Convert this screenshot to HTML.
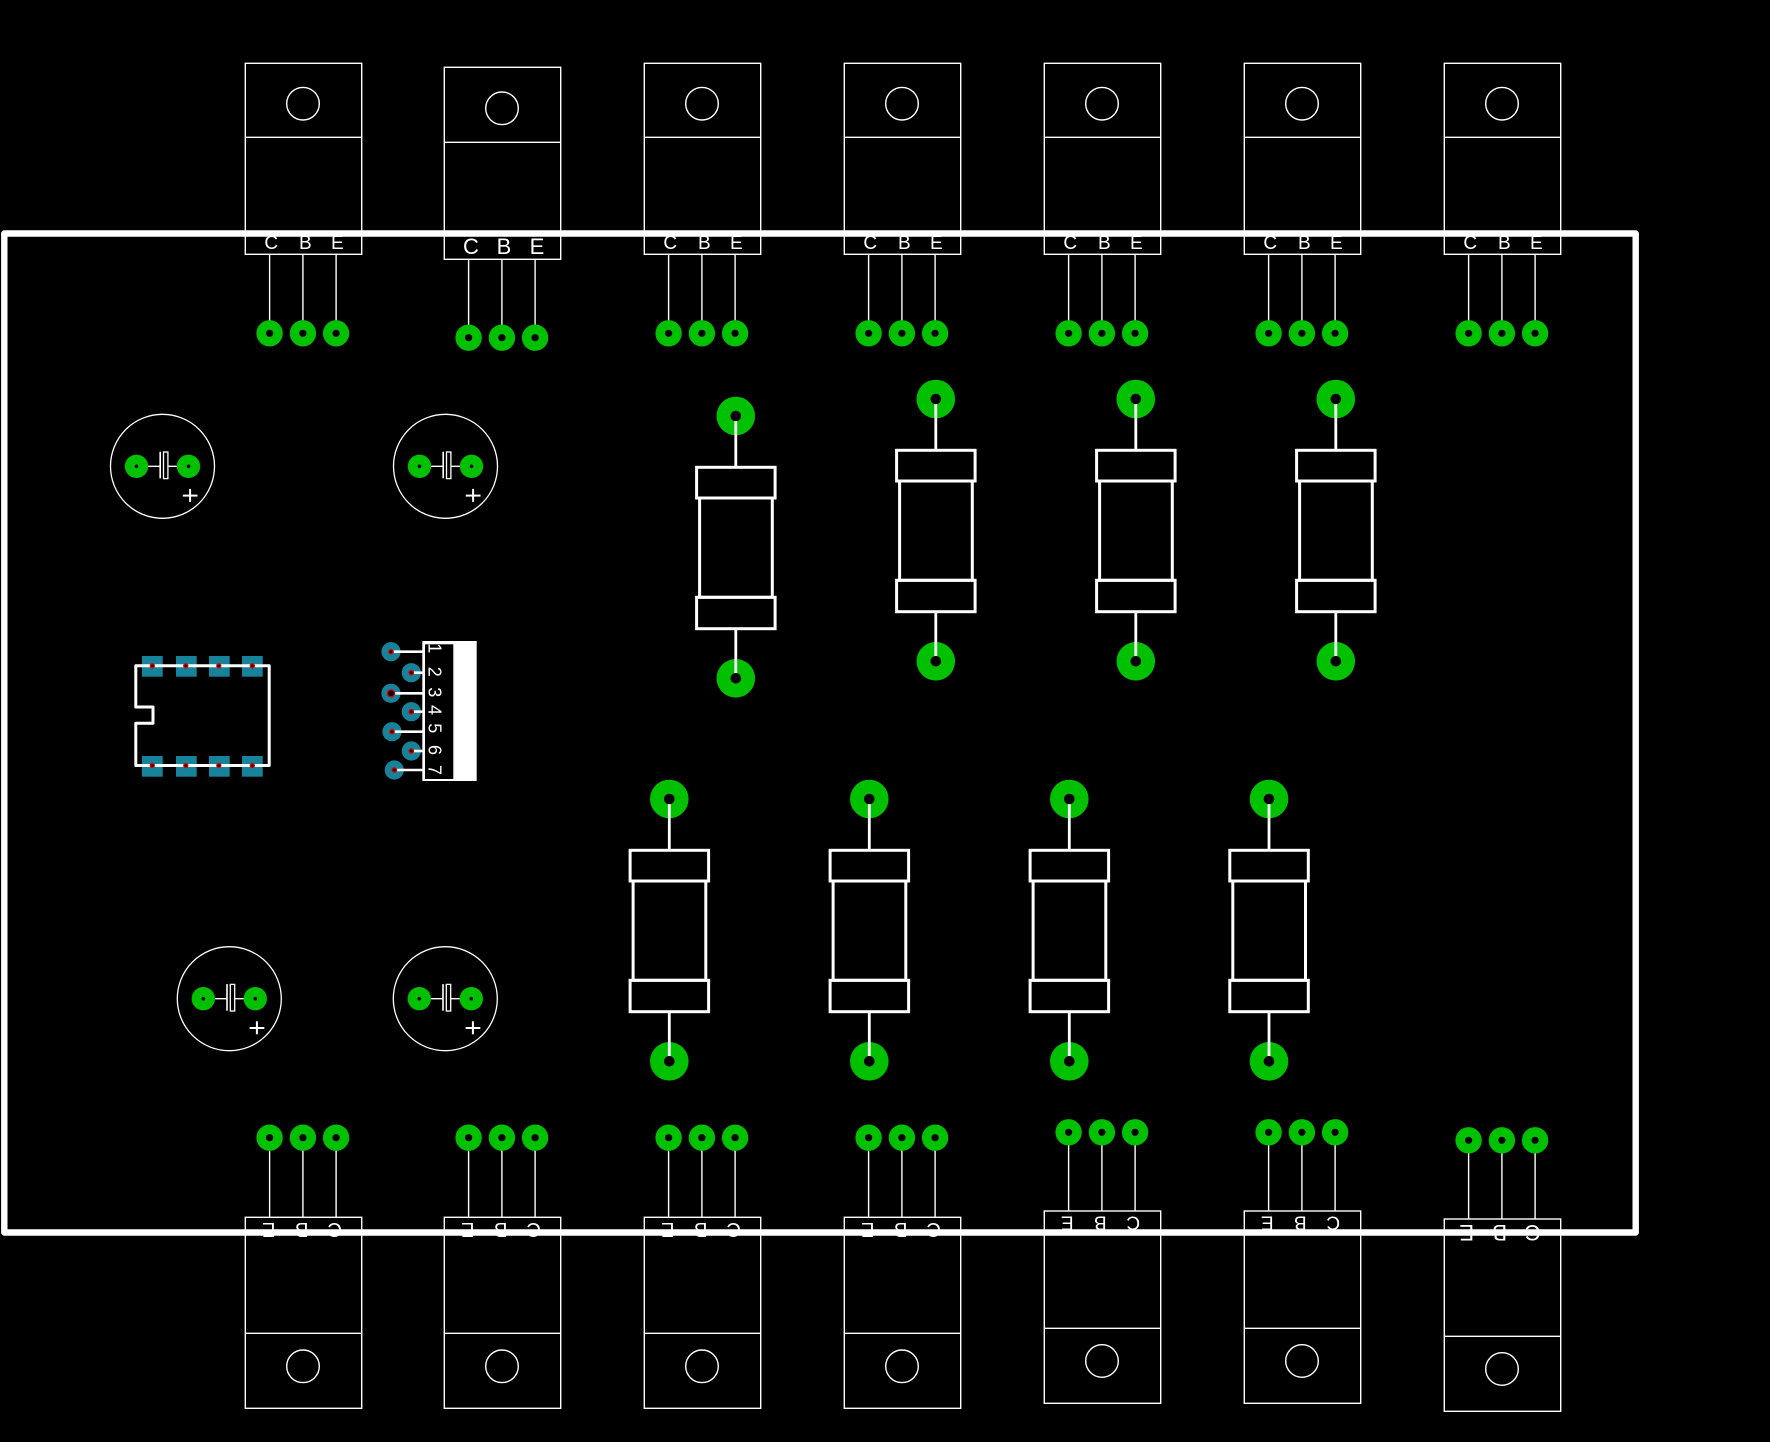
<!DOCTYPE html>
<html><head><meta charset="utf-8"><style>
html,body{margin:0;padding:0;background:#000;}
svg{display:block;}
text{font-family:"Liberation Sans",sans-serif;fill:#fff;}
</style></head><body>
<svg width="1770" height="1442" viewBox="0 0 1770 1442" xmlns="http://www.w3.org/2000/svg">
<rect x="0" y="0" width="1770" height="1442" fill="#000"/>

<!-- ============ TOP TRANSISTORS ============ -->
<g id="tt1" transform="translate(245.3,63.3)" fill="none" stroke="#fff" stroke-width="1.4">
  <rect x="0" y="0" width="116.4" height="191"/>
  <line x1="0" y1="74" x2="116.4" y2="74"/>
  <circle cx="57.7" cy="40.4" r="16.3"/>
  <line x1="24.3" y1="191" x2="24.3" y2="270"/><line x1="57.6" y1="191" x2="57.6" y2="270"/><line x1="90.8" y1="191" x2="90.8" y2="270"/>
  <g fill="#00c000" stroke="none"><circle cx="24.3" cy="270" r="13.2"/><circle cx="57.6" cy="270" r="13.2"/><circle cx="90.8" cy="270" r="13.2"/></g>
  <g fill="#000" stroke="none"><circle cx="24.3" cy="270" r="3.6"/><circle cx="57.6" cy="270" r="3.6"/><circle cx="90.8" cy="270" r="3.6"/></g>
  <g stroke="none" font-size="19" text-anchor="middle"><text x="26" y="185.7">C</text><text x="60" y="185.7">B</text><text x="92" y="185.7">E</text></g>
</g>
<g transform="translate(444.3,67.3)" fill="none" stroke="#fff" stroke-width="1.4">
  <rect x="0" y="0" width="116.4" height="192"/>
  <line x1="0" y1="75" x2="116.4" y2="75"/>
  <circle cx="57.7" cy="41" r="16.3"/>
  <line x1="24.3" y1="192" x2="24.3" y2="270.4"/><line x1="57.6" y1="192" x2="57.6" y2="270.4"/><line x1="90.8" y1="192" x2="90.8" y2="270.4"/>
  <g fill="#00c000" stroke="none"><circle cx="24.3" cy="270.4" r="13.2"/><circle cx="57.6" cy="270.4" r="13.2"/><circle cx="90.8" cy="270.4" r="13.2"/></g>
  <g fill="#000" stroke="none"><circle cx="24.3" cy="270.4" r="3.6"/><circle cx="57.6" cy="270.4" r="3.6"/><circle cx="90.8" cy="270.4" r="3.6"/></g>
  <g stroke="none" font-size="22" text-anchor="middle"><text x="26.7" y="186.7">C</text><text x="59.7" y="186.7">B</text><text x="92.7" y="186.7">E</text></g>
</g>
<g transform="translate(644.3,63.3)" fill="none" stroke="#fff" stroke-width="1.4">
  <rect x="0" y="0" width="116.4" height="191"/>
  <line x1="0" y1="74" x2="116.4" y2="74"/>
  <circle cx="57.7" cy="40.4" r="16.3"/>
  <line x1="24.3" y1="191" x2="24.3" y2="270"/><line x1="57.6" y1="191" x2="57.6" y2="270"/><line x1="90.8" y1="191" x2="90.8" y2="270"/>
  <g fill="#00c000" stroke="none"><circle cx="24.3" cy="270" r="13.2"/><circle cx="57.6" cy="270" r="13.2"/><circle cx="90.8" cy="270" r="13.2"/></g>
  <g fill="#000" stroke="none"><circle cx="24.3" cy="270" r="3.6"/><circle cx="57.6" cy="270" r="3.6"/><circle cx="90.8" cy="270" r="3.6"/></g>
  <g stroke="none" font-size="19" text-anchor="middle"><text x="26" y="185.7">C</text><text x="60" y="185.7">B</text><text x="92" y="185.7">E</text></g>
</g>
<g transform="translate(844.3,63.3)" fill="none" stroke="#fff" stroke-width="1.4">
  <rect x="0" y="0" width="116.4" height="191"/>
  <line x1="0" y1="74" x2="116.4" y2="74"/>
  <circle cx="57.7" cy="40.4" r="16.3"/>
  <line x1="24.3" y1="191" x2="24.3" y2="270"/><line x1="57.6" y1="191" x2="57.6" y2="270"/><line x1="90.8" y1="191" x2="90.8" y2="270"/>
  <g fill="#00c000" stroke="none"><circle cx="24.3" cy="270" r="13.2"/><circle cx="57.6" cy="270" r="13.2"/><circle cx="90.8" cy="270" r="13.2"/></g>
  <g fill="#000" stroke="none"><circle cx="24.3" cy="270" r="3.6"/><circle cx="57.6" cy="270" r="3.6"/><circle cx="90.8" cy="270" r="3.6"/></g>
  <g stroke="none" font-size="19" text-anchor="middle"><text x="26" y="185.7">C</text><text x="60" y="185.7">B</text><text x="92" y="185.7">E</text></g>
</g>
<g transform="translate(1044.3,63.3)" fill="none" stroke="#fff" stroke-width="1.4">
  <rect x="0" y="0" width="116.4" height="191"/>
  <line x1="0" y1="74" x2="116.4" y2="74"/>
  <circle cx="57.7" cy="40.4" r="16.3"/>
  <line x1="24.3" y1="191" x2="24.3" y2="270"/><line x1="57.6" y1="191" x2="57.6" y2="270"/><line x1="90.8" y1="191" x2="90.8" y2="270"/>
  <g fill="#00c000" stroke="none"><circle cx="24.3" cy="270" r="13.2"/><circle cx="57.6" cy="270" r="13.2"/><circle cx="90.8" cy="270" r="13.2"/></g>
  <g fill="#000" stroke="none"><circle cx="24.3" cy="270" r="3.6"/><circle cx="57.6" cy="270" r="3.6"/><circle cx="90.8" cy="270" r="3.6"/></g>
  <g stroke="none" font-size="19" text-anchor="middle"><text x="26" y="185.7">C</text><text x="60" y="185.7">B</text><text x="92" y="185.7">E</text></g>
</g>
<g transform="translate(1244.3,63.3)" fill="none" stroke="#fff" stroke-width="1.4">
  <rect x="0" y="0" width="116.4" height="191"/>
  <line x1="0" y1="74" x2="116.4" y2="74"/>
  <circle cx="57.7" cy="40.4" r="16.3"/>
  <line x1="24.3" y1="191" x2="24.3" y2="270"/><line x1="57.6" y1="191" x2="57.6" y2="270"/><line x1="90.8" y1="191" x2="90.8" y2="270"/>
  <g fill="#00c000" stroke="none"><circle cx="24.3" cy="270" r="13.2"/><circle cx="57.6" cy="270" r="13.2"/><circle cx="90.8" cy="270" r="13.2"/></g>
  <g fill="#000" stroke="none"><circle cx="24.3" cy="270" r="3.6"/><circle cx="57.6" cy="270" r="3.6"/><circle cx="90.8" cy="270" r="3.6"/></g>
  <g stroke="none" font-size="19" text-anchor="middle"><text x="26" y="185.7">C</text><text x="60" y="185.7">B</text><text x="92" y="185.7">E</text></g>
</g>
<g transform="translate(1444.3,63.3)" fill="none" stroke="#fff" stroke-width="1.4">
  <rect x="0" y="0" width="116.4" height="191"/>
  <line x1="0" y1="74" x2="116.4" y2="74"/>
  <circle cx="57.7" cy="40.4" r="16.3"/>
  <line x1="24.3" y1="191" x2="24.3" y2="270"/><line x1="57.6" y1="191" x2="57.6" y2="270"/><line x1="90.8" y1="191" x2="90.8" y2="270"/>
  <g fill="#00c000" stroke="none"><circle cx="24.3" cy="270" r="13.2"/><circle cx="57.6" cy="270" r="13.2"/><circle cx="90.8" cy="270" r="13.2"/></g>
  <g fill="#000" stroke="none"><circle cx="24.3" cy="270" r="3.6"/><circle cx="57.6" cy="270" r="3.6"/><circle cx="90.8" cy="270" r="3.6"/></g>
  <g stroke="none" font-size="19" text-anchor="middle"><text x="26" y="185.7">C</text><text x="60" y="185.7">B</text><text x="92" y="185.7">E</text></g>
</g>

<!-- ============ BOTTOM TRANSISTORS ============ -->
<g transform="translate(245.3,1217.3)" fill="none" stroke="#fff" stroke-width="1.4">
  <rect x="0" y="0" width="116.4" height="191"/>
  <line x1="0" y1="116" x2="116.4" y2="116"/>
  <circle cx="57.7" cy="149" r="16.3"/>
  <line x1="24.3" y1="0" x2="24.3" y2="-79.6"/><line x1="57.6" y1="0" x2="57.6" y2="-79.6"/><line x1="90.8" y1="0" x2="90.8" y2="-79.6"/>
  <g fill="#00c000" stroke="none"><circle cx="24.3" cy="-79.6" r="13.2"/><circle cx="57.6" cy="-79.6" r="13.2"/><circle cx="90.8" cy="-79.6" r="13.2"/></g>
  <g fill="#000" stroke="none"><circle cx="24.3" cy="-79.6" r="3.6"/><circle cx="57.6" cy="-79.6" r="3.6"/><circle cx="90.8" cy="-79.6" r="3.6"/></g>
  <g stroke="none" font-size="20" text-anchor="middle">
    <text x="23.5" y="20.1" transform="rotate(180 23.5 12.9)">E</text>
    <text x="56.5" y="20.1" transform="rotate(180 56.5 12.9)">B</text>
    <text x="89.5" y="20.1" transform="rotate(180 89.5 12.9)">C</text>
  </g>
</g>
<g transform="translate(444.3,1217.3)" fill="none" stroke="#fff" stroke-width="1.4">
  <rect x="0" y="0" width="116.4" height="191"/>
  <line x1="0" y1="116" x2="116.4" y2="116"/>
  <circle cx="57.7" cy="149" r="16.3"/>
  <line x1="24.3" y1="0" x2="24.3" y2="-79.6"/><line x1="57.6" y1="0" x2="57.6" y2="-79.6"/><line x1="90.8" y1="0" x2="90.8" y2="-79.6"/>
  <g fill="#00c000" stroke="none"><circle cx="24.3" cy="-79.6" r="13.2"/><circle cx="57.6" cy="-79.6" r="13.2"/><circle cx="90.8" cy="-79.6" r="13.2"/></g>
  <g fill="#000" stroke="none"><circle cx="24.3" cy="-79.6" r="3.6"/><circle cx="57.6" cy="-79.6" r="3.6"/><circle cx="90.8" cy="-79.6" r="3.6"/></g>
  <g stroke="none" font-size="20" text-anchor="middle">
    <text x="23.5" y="20.1" transform="rotate(180 23.5 12.9)">E</text>
    <text x="56.5" y="20.1" transform="rotate(180 56.5 12.9)">B</text>
    <text x="89.5" y="20.1" transform="rotate(180 89.5 12.9)">C</text>
  </g>
</g>
<g transform="translate(644.3,1217.3)" fill="none" stroke="#fff" stroke-width="1.4">
  <rect x="0" y="0" width="116.4" height="191"/>
  <line x1="0" y1="116" x2="116.4" y2="116"/>
  <circle cx="57.7" cy="149" r="16.3"/>
  <line x1="24.3" y1="0" x2="24.3" y2="-79.6"/><line x1="57.6" y1="0" x2="57.6" y2="-79.6"/><line x1="90.8" y1="0" x2="90.8" y2="-79.6"/>
  <g fill="#00c000" stroke="none"><circle cx="24.3" cy="-79.6" r="13.2"/><circle cx="57.6" cy="-79.6" r="13.2"/><circle cx="90.8" cy="-79.6" r="13.2"/></g>
  <g fill="#000" stroke="none"><circle cx="24.3" cy="-79.6" r="3.6"/><circle cx="57.6" cy="-79.6" r="3.6"/><circle cx="90.8" cy="-79.6" r="3.6"/></g>
  <g stroke="none" font-size="20" text-anchor="middle">
    <text x="23.5" y="20.1" transform="rotate(180 23.5 12.9)">E</text>
    <text x="56.5" y="20.1" transform="rotate(180 56.5 12.9)">B</text>
    <text x="89.5" y="20.1" transform="rotate(180 89.5 12.9)">C</text>
  </g>
</g>
<g transform="translate(844.3,1217.3)" fill="none" stroke="#fff" stroke-width="1.4">
  <rect x="0" y="0" width="116.4" height="191"/>
  <line x1="0" y1="116" x2="116.4" y2="116"/>
  <circle cx="57.7" cy="149" r="16.3"/>
  <line x1="24.3" y1="0" x2="24.3" y2="-79.6"/><line x1="57.6" y1="0" x2="57.6" y2="-79.6"/><line x1="90.8" y1="0" x2="90.8" y2="-79.6"/>
  <g fill="#00c000" stroke="none"><circle cx="24.3" cy="-79.6" r="13.2"/><circle cx="57.6" cy="-79.6" r="13.2"/><circle cx="90.8" cy="-79.6" r="13.2"/></g>
  <g fill="#000" stroke="none"><circle cx="24.3" cy="-79.6" r="3.6"/><circle cx="57.6" cy="-79.6" r="3.6"/><circle cx="90.8" cy="-79.6" r="3.6"/></g>
  <g stroke="none" font-size="20" text-anchor="middle">
    <text x="23.5" y="20.1" transform="rotate(180 23.5 12.9)">E</text>
    <text x="56.5" y="20.1" transform="rotate(180 56.5 12.9)">B</text>
    <text x="89.5" y="20.1" transform="rotate(180 89.5 12.9)">C</text>
  </g>
</g>
<g transform="translate(1044.3,1211)" fill="none" stroke="#fff" stroke-width="1.4">
  <rect x="0" y="0" width="116.4" height="192.3"/>
  <line x1="0" y1="117.3" x2="116.4" y2="117.3"/>
  <circle cx="57.7" cy="150" r="16.3"/>
  <line x1="24.3" y1="0" x2="24.3" y2="-78.7"/><line x1="57.6" y1="0" x2="57.6" y2="-78.7"/><line x1="90.8" y1="0" x2="90.8" y2="-78.7"/>
  <g fill="#00c000" stroke="none"><circle cx="24.3" cy="-78.7" r="13.2"/><circle cx="57.6" cy="-78.7" r="13.2"/><circle cx="90.8" cy="-78.7" r="13.2"/></g>
  <g fill="#000" stroke="none"><circle cx="24.3" cy="-78.7" r="3.6"/><circle cx="57.6" cy="-78.7" r="3.6"/><circle cx="90.8" cy="-78.7" r="3.6"/></g>
  <g stroke="none" font-size="19" text-anchor="middle">
    <text x="23" y="19.3" transform="rotate(180 23 12.5)">E</text>
    <text x="56" y="19.3" transform="rotate(180 56 12.5)">B</text>
    <text x="89" y="19.3" transform="rotate(180 89 12.5)">C</text>
  </g>
</g>
<g transform="translate(1244.3,1211)" fill="none" stroke="#fff" stroke-width="1.4">
  <rect x="0" y="0" width="116.4" height="192.3"/>
  <line x1="0" y1="117.3" x2="116.4" y2="117.3"/>
  <circle cx="57.7" cy="150" r="16.3"/>
  <line x1="24.3" y1="0" x2="24.3" y2="-78.7"/><line x1="57.6" y1="0" x2="57.6" y2="-78.7"/><line x1="90.8" y1="0" x2="90.8" y2="-78.7"/>
  <g fill="#00c000" stroke="none"><circle cx="24.3" cy="-78.7" r="13.2"/><circle cx="57.6" cy="-78.7" r="13.2"/><circle cx="90.8" cy="-78.7" r="13.2"/></g>
  <g fill="#000" stroke="none"><circle cx="24.3" cy="-78.7" r="3.6"/><circle cx="57.6" cy="-78.7" r="3.6"/><circle cx="90.8" cy="-78.7" r="3.6"/></g>
  <g stroke="none" font-size="19" text-anchor="middle">
    <text x="23" y="19.3" transform="rotate(180 23 12.5)">E</text>
    <text x="56" y="19.3" transform="rotate(180 56 12.5)">B</text>
    <text x="89" y="19.3" transform="rotate(180 89 12.5)">C</text>
  </g>
</g>
<g transform="translate(1444.3,1219)" fill="none" stroke="#fff" stroke-width="1.4">
  <rect x="0" y="0" width="116.4" height="192.3"/>
  <line x1="0" y1="117.3" x2="116.4" y2="117.3"/>
  <circle cx="57.7" cy="150" r="16.3"/>
  <line x1="24.3" y1="0" x2="24.3" y2="-78.7"/><line x1="57.6" y1="0" x2="57.6" y2="-78.7"/><line x1="90.8" y1="0" x2="90.8" y2="-78.7"/>
  <g fill="#00c000" stroke="none"><circle cx="24.3" cy="-78.7" r="13.2"/><circle cx="57.6" cy="-78.7" r="13.2"/><circle cx="90.8" cy="-78.7" r="13.2"/></g>
  <g fill="#000" stroke="none"><circle cx="24.3" cy="-78.7" r="3.6"/><circle cx="57.6" cy="-78.7" r="3.6"/><circle cx="90.8" cy="-78.7" r="3.6"/></g>
  <g stroke="none" font-size="22" text-anchor="middle">
    <text x="22.5" y="21.9" transform="rotate(180 22.5 14)">E</text>
    <text x="55.5" y="21.9" transform="rotate(180 55.5 14)">B</text>
    <text x="88.5" y="21.9" transform="rotate(180 88.5 14)">C</text>
  </g>
</g>

<!-- ============ RESISTORS ============ -->
<g fill="none" stroke="#fff">
<!-- top row -->
<g transform="translate(735.8,416)">
  <circle cx="0" cy="0" r="19.3" fill="#00c000" stroke="none"/><circle cx="0" cy="262.3" r="19.3" fill="#00c000" stroke="none"/>
  <line x1="0" y1="0" x2="0" y2="51.3" stroke-width="2.8"/><line x1="0" y1="212.7" x2="0" y2="262.3" stroke-width="2.8"/>
  <circle cx="0" cy="0" r="5.3" fill="#000" stroke="none"/><circle cx="0" cy="262.3" r="5.3" fill="#000" stroke="none"/>
  <rect x="-39.2" y="51.3" width="78.5" height="30.7" stroke-width="3"/>
  <rect x="-36.2" y="82" width="72.7" height="99.3" stroke-width="3"/>
  <rect x="-39.2" y="181.3" width="78.5" height="31.4" stroke-width="3"/>
</g>
<g transform="translate(935.8,399)">
  <circle cx="0" cy="0" r="19.3" fill="#00c000" stroke="none"/><circle cx="0" cy="262.3" r="19.3" fill="#00c000" stroke="none"/>
  <line x1="0" y1="0" x2="0" y2="51.3" stroke-width="2.8"/><line x1="0" y1="212.7" x2="0" y2="262.3" stroke-width="2.8"/>
  <circle cx="0" cy="0" r="5.3" fill="#000" stroke="none"/><circle cx="0" cy="262.3" r="5.3" fill="#000" stroke="none"/>
  <rect x="-39.2" y="51.3" width="78.5" height="30.7" stroke-width="3"/>
  <rect x="-36.2" y="82" width="72.7" height="99.3" stroke-width="3"/>
  <rect x="-39.2" y="181.3" width="78.5" height="31.4" stroke-width="3"/>
</g>
<g transform="translate(1135.8,399)">
  <circle cx="0" cy="0" r="19.3" fill="#00c000" stroke="none"/><circle cx="0" cy="262.3" r="19.3" fill="#00c000" stroke="none"/>
  <line x1="0" y1="0" x2="0" y2="51.3" stroke-width="2.8"/><line x1="0" y1="212.7" x2="0" y2="262.3" stroke-width="2.8"/>
  <circle cx="0" cy="0" r="5.3" fill="#000" stroke="none"/><circle cx="0" cy="262.3" r="5.3" fill="#000" stroke="none"/>
  <rect x="-39.2" y="51.3" width="78.5" height="30.7" stroke-width="3"/>
  <rect x="-36.2" y="82" width="72.7" height="99.3" stroke-width="3"/>
  <rect x="-39.2" y="181.3" width="78.5" height="31.4" stroke-width="3"/>
</g>
<g transform="translate(1335.8,399)">
  <circle cx="0" cy="0" r="19.3" fill="#00c000" stroke="none"/><circle cx="0" cy="262.3" r="19.3" fill="#00c000" stroke="none"/>
  <line x1="0" y1="0" x2="0" y2="51.3" stroke-width="2.8"/><line x1="0" y1="212.7" x2="0" y2="262.3" stroke-width="2.8"/>
  <circle cx="0" cy="0" r="5.3" fill="#000" stroke="none"/><circle cx="0" cy="262.3" r="5.3" fill="#000" stroke="none"/>
  <rect x="-39.2" y="51.3" width="78.5" height="30.7" stroke-width="3"/>
  <rect x="-36.2" y="82" width="72.7" height="99.3" stroke-width="3"/>
  <rect x="-39.2" y="181.3" width="78.5" height="31.4" stroke-width="3"/>
</g>
<!-- bottom row -->
<g transform="translate(669.3,799)">
  <circle cx="0" cy="0" r="19.3" fill="#00c000" stroke="none"/><circle cx="0" cy="262.3" r="19.3" fill="#00c000" stroke="none"/>
  <line x1="0" y1="0" x2="0" y2="51.3" stroke-width="2.8"/><line x1="0" y1="212.7" x2="0" y2="262.3" stroke-width="2.8"/>
  <circle cx="0" cy="0" r="5.3" fill="#000" stroke="none"/><circle cx="0" cy="262.3" r="5.3" fill="#000" stroke="none"/>
  <rect x="-39.2" y="51.3" width="78.5" height="30.7" stroke-width="3"/>
  <rect x="-36.2" y="82" width="72.7" height="99.3" stroke-width="3"/>
  <rect x="-39.2" y="181.3" width="78.5" height="31.4" stroke-width="3"/>
</g>
<g transform="translate(869.3,799)">
  <circle cx="0" cy="0" r="19.3" fill="#00c000" stroke="none"/><circle cx="0" cy="262.3" r="19.3" fill="#00c000" stroke="none"/>
  <line x1="0" y1="0" x2="0" y2="51.3" stroke-width="2.8"/><line x1="0" y1="212.7" x2="0" y2="262.3" stroke-width="2.8"/>
  <circle cx="0" cy="0" r="5.3" fill="#000" stroke="none"/><circle cx="0" cy="262.3" r="5.3" fill="#000" stroke="none"/>
  <rect x="-39.2" y="51.3" width="78.5" height="30.7" stroke-width="3"/>
  <rect x="-36.2" y="82" width="72.7" height="99.3" stroke-width="3"/>
  <rect x="-39.2" y="181.3" width="78.5" height="31.4" stroke-width="3"/>
</g>
<g transform="translate(1069.3,799)">
  <circle cx="0" cy="0" r="19.3" fill="#00c000" stroke="none"/><circle cx="0" cy="262.3" r="19.3" fill="#00c000" stroke="none"/>
  <line x1="0" y1="0" x2="0" y2="51.3" stroke-width="2.8"/><line x1="0" y1="212.7" x2="0" y2="262.3" stroke-width="2.8"/>
  <circle cx="0" cy="0" r="5.3" fill="#000" stroke="none"/><circle cx="0" cy="262.3" r="5.3" fill="#000" stroke="none"/>
  <rect x="-39.2" y="51.3" width="78.5" height="30.7" stroke-width="3"/>
  <rect x="-36.2" y="82" width="72.7" height="99.3" stroke-width="3"/>
  <rect x="-39.2" y="181.3" width="78.5" height="31.4" stroke-width="3"/>
</g>
<g transform="translate(1269,799)">
  <circle cx="0" cy="0" r="19.3" fill="#00c000" stroke="none"/><circle cx="0" cy="262.3" r="19.3" fill="#00c000" stroke="none"/>
  <line x1="0" y1="0" x2="0" y2="51.3" stroke-width="2.8"/><line x1="0" y1="212.7" x2="0" y2="262.3" stroke-width="2.8"/>
  <circle cx="0" cy="0" r="5.3" fill="#000" stroke="none"/><circle cx="0" cy="262.3" r="5.3" fill="#000" stroke="none"/>
  <rect x="-39.2" y="51.3" width="78.5" height="30.7" stroke-width="3"/>
  <rect x="-36.2" y="82" width="72.7" height="99.3" stroke-width="3"/>
  <rect x="-39.2" y="181.3" width="78.5" height="31.4" stroke-width="3"/>
</g>
</g>

<!-- ============ CAPACITORS ============ -->
<g fill="none" stroke="#fff" stroke-width="1.3">
<g transform="translate(162.5,466.3)">
  <circle cx="0" cy="0" r="52"/>
  <line x1="-26" y1="0" x2="-2.3" y2="0"/><line x1="-2.3" y1="-14.6" x2="-2.3" y2="12" stroke-width="1.6"/>
  <rect x="1" y="-14.3" width="4.4" height="26.6"/><line x1="5.4" y1="0" x2="26" y2="0"/>
  <circle cx="-26" cy="0" r="11.7" fill="#00c000" stroke="none"/><circle cx="26" cy="0" r="11.7" fill="#00c000" stroke="none"/>
  <circle cx="-26" cy="0" r="1.8" fill="#000" stroke="none"/><circle cx="26" cy="0" r="1.8" fill="#000" stroke="none"/>
  <line x1="20.3" y1="29.3" x2="35" y2="29.3" stroke-width="2"/><line x1="27.6" y1="22.6" x2="27.6" y2="35.6" stroke-width="2"/>
</g>
<g transform="translate(445.5,466.3)">
  <circle cx="0" cy="0" r="52"/>
  <line x1="-26" y1="0" x2="-2.3" y2="0"/><line x1="-2.3" y1="-14.6" x2="-2.3" y2="12" stroke-width="1.6"/>
  <rect x="1" y="-14.3" width="4.4" height="26.6"/><line x1="5.4" y1="0" x2="26" y2="0"/>
  <circle cx="-26" cy="0" r="11.7" fill="#00c000" stroke="none"/><circle cx="26" cy="0" r="11.7" fill="#00c000" stroke="none"/>
  <circle cx="-26" cy="0" r="1.8" fill="#000" stroke="none"/><circle cx="26" cy="0" r="1.8" fill="#000" stroke="none"/>
  <line x1="20.3" y1="29.3" x2="35" y2="29.3" stroke-width="2"/><line x1="27.6" y1="22.6" x2="27.6" y2="35.6" stroke-width="2"/>
</g>
<g transform="translate(229.3,998.7)">
  <circle cx="0" cy="0" r="52"/>
  <line x1="-26" y1="0" x2="-2.3" y2="0"/><line x1="-2.3" y1="-14.6" x2="-2.3" y2="12" stroke-width="1.6"/>
  <rect x="1" y="-14.3" width="4.4" height="26.6"/><line x1="5.4" y1="0" x2="26" y2="0"/>
  <circle cx="-26" cy="0" r="11.7" fill="#00c000" stroke="none"/><circle cx="26" cy="0" r="11.7" fill="#00c000" stroke="none"/>
  <circle cx="-26" cy="0" r="1.8" fill="#000" stroke="none"/><circle cx="26" cy="0" r="1.8" fill="#000" stroke="none"/>
  <line x1="20.3" y1="29.3" x2="35" y2="29.3" stroke-width="2"/><line x1="27.6" y1="22.6" x2="27.6" y2="35.6" stroke-width="2"/>
</g>
<g transform="translate(445.3,998.7)">
  <circle cx="0" cy="0" r="52"/>
  <line x1="-26" y1="0" x2="-2.3" y2="0"/><line x1="-2.3" y1="-14.6" x2="-2.3" y2="12" stroke-width="1.6"/>
  <rect x="1" y="-14.3" width="4.4" height="26.6"/><line x1="5.4" y1="0" x2="26" y2="0"/>
  <circle cx="-26" cy="0" r="11.7" fill="#00c000" stroke="none"/><circle cx="26" cy="0" r="11.7" fill="#00c000" stroke="none"/>
  <circle cx="-26" cy="0" r="1.8" fill="#000" stroke="none"/><circle cx="26" cy="0" r="1.8" fill="#000" stroke="none"/>
  <line x1="20.3" y1="29.3" x2="35" y2="29.3" stroke-width="2"/><line x1="27.6" y1="22.6" x2="27.6" y2="35.6" stroke-width="2"/>
</g>
</g>

<!-- ============ IC DIP8 ============ -->
<g>
  <g fill="#16839b">
    <rect x="142" y="656" width="20.7" height="20.7"/><rect x="176" y="656" width="20.7" height="20.7"/>
    <rect x="209" y="656" width="20.7" height="20.7"/><rect x="242" y="656" width="20.7" height="20.7"/>
    <rect x="142" y="756" width="20.7" height="20.7"/><rect x="176" y="756" width="20.7" height="20.7"/>
    <rect x="209" y="756" width="20.7" height="20.7"/><rect x="242" y="756" width="20.7" height="20.7"/>
  </g>
  <path d="M135.8 665.8 H269.2 V765.5 H135.8 V723.3 H153 V707 H135.8 Z" fill="none" stroke="#fff" stroke-width="3" stroke-linejoin="round"/>
  <g fill="#000" stroke="#e00000" stroke-width="1.4">
    <circle cx="152.3" cy="665.8" r="2"/><circle cx="185.8" cy="665.8" r="2"/><circle cx="218.8" cy="665.8" r="2"/><circle cx="252.3" cy="665.8" r="2"/>
    <circle cx="152.3" cy="765.5" r="2"/><circle cx="185.8" cy="765.5" r="2"/><circle cx="218.8" cy="765.5" r="2"/><circle cx="252.3" cy="765.5" r="2"/>
  </g>
</g>

<!-- ============ CONNECTOR ============ -->
<g>
  <g fill="#16839b">
    <circle cx="391" cy="651.7" r="9.6"/><circle cx="411.3" cy="672.7" r="9.6"/><circle cx="391" cy="693.3" r="9.6"/>
    <circle cx="411.3" cy="711.7" r="9.6"/><circle cx="392" cy="731.7" r="9.6"/><circle cx="411.3" cy="751" r="9.6"/>
    <circle cx="394.3" cy="770" r="9.6"/>
  </g>
  <g stroke="#fff" stroke-width="2.6">
    <line x1="391" y1="651.7" x2="423" y2="651.7"/><line x1="411.3" y1="672.7" x2="423" y2="672.7"/>
    <line x1="391" y1="693.3" x2="423" y2="693.3"/><line x1="411.3" y1="711.7" x2="423" y2="711.7"/>
    <line x1="392" y1="731.7" x2="423" y2="731.7"/><line x1="411.3" y1="751" x2="423" y2="751"/>
    <line x1="394.3" y1="770" x2="423" y2="770"/>
  </g>
  <g fill="#000" stroke="#e00000" stroke-width="1.4">
    <circle cx="391" cy="651.7" r="2.2"/><circle cx="411.3" cy="672.7" r="2.2"/><circle cx="391" cy="693.3" r="3.6"/>
    <circle cx="411.3" cy="711.7" r="2.2"/><circle cx="392" cy="731.7" r="2.2"/><circle cx="411.3" cy="751" r="2.2"/>
    <circle cx="394.3" cy="770" r="2.2"/>
  </g>
  <rect x="422.3" y="641" width="54.4" height="140" fill="#fff"/>
  <rect x="425" y="644.3" width="28.3" height="134.7" fill="#000"/>
  <g font-size="18" text-anchor="middle">
    <text x="0" y="6.4" transform="translate(435,648.3) rotate(90)">1</text>
    <text x="0" y="6.4" transform="translate(435,671.7) rotate(90)">2</text>
    <text x="0" y="6.4" transform="translate(435,692.3) rotate(90)">3</text>
    <text x="0" y="6.4" transform="translate(435,710) rotate(90)">4</text>
    <text x="0" y="6.4" transform="translate(435,728.3) rotate(90)">5</text>
    <text x="0" y="6.4" transform="translate(435,750) rotate(90)">6</text>
    <text x="0" y="6.4" transform="translate(435,770) rotate(90)">7</text>
  </g>
</g>

<!-- ============ BOARD OUTLINE ============ -->
<rect x="4.3" y="233.5" width="1631.4" height="999" fill="none" stroke="#fff" stroke-width="6.4" stroke-linejoin="round"/>
</svg>
</body></html>
